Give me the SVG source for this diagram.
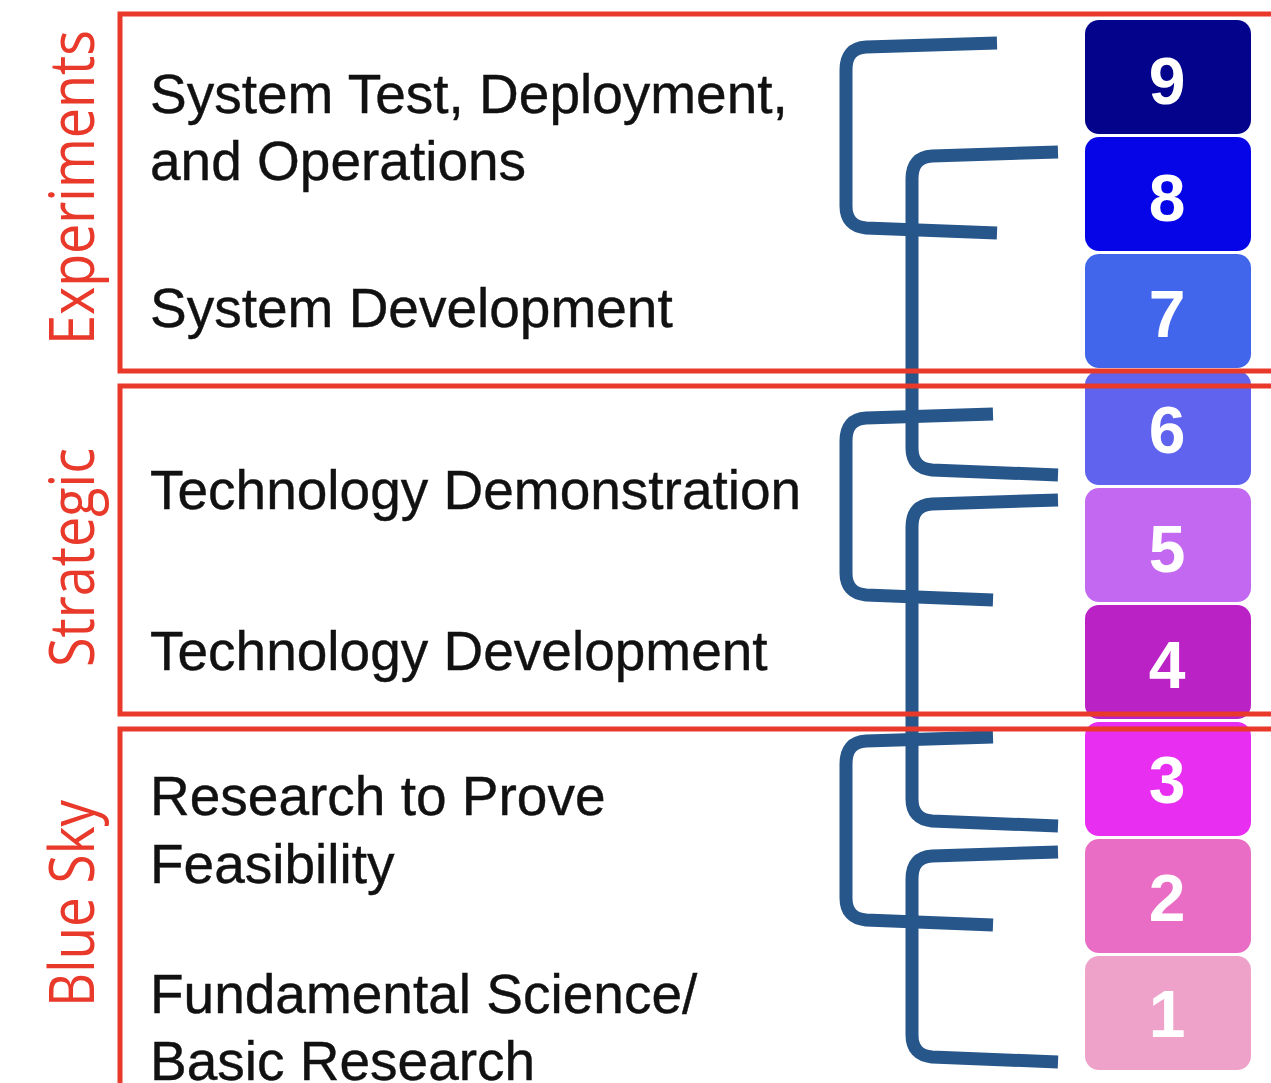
<svg xmlns="http://www.w3.org/2000/svg" width="1271" height="1083" viewBox="0 0 1271 1083">
  <style>
    .lbl { font-family: "Liberation Sans", Arial, sans-serif; font-size: 55px; fill: #111; stroke: #111; stroke-width: 0.4; }
    .side { font-family: "Open Sans", "Noto Sans", sans-serif; font-size: 62px; fill: #e8392b; text-anchor: middle; }
    .num { font-family: "Liberation Sans", Arial, sans-serif; font-weight: bold; font-size: 66px; fill: #fff; text-anchor: middle; }
    .frame { fill: none; stroke: #e8392b; stroke-width: 5; }
    .br { fill: none; stroke: #27568b; stroke-width: 13; stroke-linecap: butt; stroke-linejoin: round; }
  </style>
  <rect x="0" y="0" width="1271" height="1083" fill="#fff"/>

  <!-- number boxes -->
  <g id="trl9"><rect x="1085" y="20" width="166" height="114" rx="14" fill="#03038c"/><text class="num" x="1167" y="104">9</text></g>
  <g id="trl8"><rect x="1085" y="137" width="166" height="114" rx="14" fill="#0505e8"/><text class="num" x="1167" y="221">8</text></g>
  <g id="trl7"><rect x="1085" y="254" width="166" height="114" rx="14" fill="#4165eb"/><text class="num" x="1167" y="337">7</text></g>
  <g id="trl6"><rect x="1085" y="371" width="166" height="114" rx="14" fill="#6063ee"/><text class="num" x="1167" y="453">6</text></g>
  <g id="trl5"><rect x="1085" y="488" width="166" height="114" rx="14" fill="#c368f0"/><text class="num" x="1167" y="572">5</text></g>
  <g id="trl4"><rect x="1085" y="605" width="166" height="114" rx="14" fill="#bb22c6"/><text class="num" x="1167" y="688">4</text></g>
  <g id="trl3"><rect x="1085" y="722" width="166" height="114" rx="14" fill="#e82ef0"/><text class="num" x="1167" y="803">3</text></g>
  <g id="trl2"><rect x="1085" y="839" width="166" height="114" rx="14" fill="#ea6dc5"/><text class="num" x="1167" y="921">2</text></g>
  <g id="trl1"><rect x="1085" y="956" width="166" height="114" rx="14" fill="#eea2c9"/><text class="num" x="1167" y="1037">1</text></g>

  <!-- connectors (brackets) -->
  <g id="connectors">
    <path class="br" d="M997,43 L866,47 Q846,48 846,70 L846,206 Q846,226 866,228 L997,233"/>
    <path class="br" d="M993,414 L866,418 Q846,419 846,441 L846,573 Q846,593 866,595 L993,600"/>
    <path class="br" d="M993,737 L866,741 Q846,742 846,764 L846,898 Q846,918 866,920 L993,925"/>
    <path class="br" d="M1058,152 L932,156 Q912,157 912,179 L912,448 Q912,468 932,470 L1058,475"/>
    <path class="br" d="M1058,500 L932,504 Q912,505 912,527 L912,799 Q912,819 932,821 L1058,826"/>
    <path class="br" d="M1058,852 L932,856 Q912,857 912,879 L912,1035 Q912,1055 932,1057 L1058,1062"/>
  </g>

  <!-- texts -->
  <g id="experiments">
    <text class="lbl" x="150" y="113">System Test, Deployment,</text>
    <text class="lbl" x="150" y="180">and Operations</text>
    <text class="lbl" x="150" y="327">System Development</text>
    <text class="side" transform="translate(94,187.5) rotate(-90)" x="0" y="0" textLength="315" lengthAdjust="spacingAndGlyphs">Experiments</text>
    <rect class="frame" x="120" y="14" width="1200" height="357"/>
  </g>
  <g id="strategic">
    <text class="lbl" x="150" y="509">Technology Demonstration</text>
    <text class="lbl" x="150" y="670">Technology Development</text>
    <text class="side" transform="translate(94,557.5) rotate(-90)" x="0" y="0" textLength="219" lengthAdjust="spacingAndGlyphs">Strategic</text>
    <rect class="frame" x="120" y="386" width="1200" height="328"/>
  </g>
  <g id="bluesky">
    <text class="lbl" x="150" y="815">Research to Prove</text>
    <text class="lbl" x="150" y="883">Feasibility</text>
    <text class="lbl" x="150" y="1013">Fundamental Science/</text>
    <text class="lbl" x="150" y="1080">Basic Research</text>
    <text class="side" transform="translate(94,903.5) rotate(-90)" x="0" y="0" textLength="207" lengthAdjust="spacingAndGlyphs">Blue Sky</text>
    <rect class="frame" x="120" y="729" width="1200" height="400"/>
  </g>
</svg>
